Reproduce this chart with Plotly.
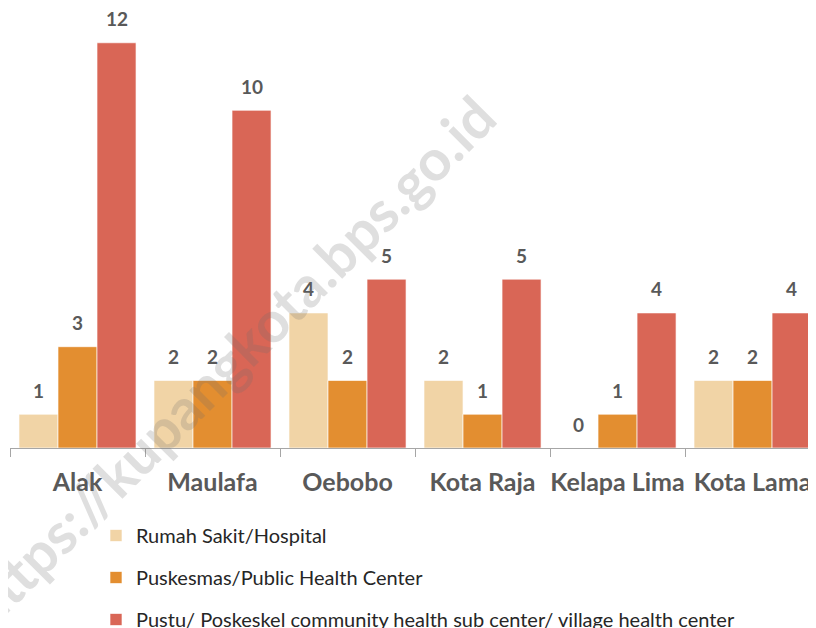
import plotly.graph_objects as go

categories = ["Alak", "Maulafa", "Oebobo", "Kota Raja", "Kelapa Lima", "Kota Lama"]
series_names = [
    "Rumah Sakit/Hospital",
    "Puskesmas/Public Health Center",
    "Pustu/ Poskeskel community health sub center/ village health center",
]
hospital = [1, 2, 4, 2, 0, 2]
puskesmas = [3, 2, 2, 1, 1, 2]
pustu = [12, 10, 5, 5, 4, 4]
series_values = [hospital, puskesmas, pustu]
colors = ["#F1D4A6", "#E38E30", "#D96656"]
watermark = "https://kupangkota.bps.go.id"

# page body has an 8px margin, so the figure is offset by 8px
W, H = 808, 620
ML, MT, MB = 2, 1, 180
PW = W - ML
PH = H - MT - MB
BOTTOM = MT + PH

BARGAP = 0.133
fig = go.Figure()
for i, (name, vals, col) in enumerate(zip(series_names, series_values, colors)):
    fig.add_trace(go.Bar(
        x=categories, y=vals, name=name, legendgroup=f"g{i}",
        marker=dict(color=col, line=dict(color="rgba(255,255,255,0.8)", width=0.8)),
        hoverinfo="skip",
    ))

# data labels above bars
bw = (1 - BARGAP) / 3
annotations = []
for i, vals in enumerate(series_values):
    off = (i - 1) * bw
    for j, v in enumerate(vals):
        annotations.append(dict(
            x=j + off, y=v, xref="x", yref="y", text=str(v), showarrow=False,
            yanchor="middle", yshift=24,
            font=dict(family="Lato", size=19, color="#595959", weight="bold"),
        ))

# watermark
annotations.append(dict(
    x=(221 - ML) / PW, y=(BOTTOM - 353) / PH, xref="paper", yref="paper",
    text=watermark, showarrow=False, textangle=-45,
    xanchor="center", yanchor="middle",
    font=dict(family="Lato", size=57, color="rgba(110,110,110,0.22)", weight="bold"),
))

fig.update_layout(
    width=W, height=H,
    margin=dict(l=ML, r=0, t=MT, b=MB, autoexpand=False),
    paper_bgcolor="white", plot_bgcolor="white",
    barmode="group", bargap=BARGAP, bargroupgap=0,
    showlegend=True,
    legend=dict(
        orientation="v", x=(88 - ML) / PW, xanchor="left",
        y=(BOTTOM - 508) / PH, yanchor="top",
        font=dict(family="Lato", size=20, color="#262626"),
        tracegroupgap=13, bgcolor="rgba(0,0,0,0)", traceorder="grouped",
    ),
    xaxis=dict(
        range=[-0.5, 5.47], showline=True, linecolor="#A6A6A6", linewidth=1,
        ticks="outside", tickson="boundaries", ticklen=8, tickcolor="#A6A6A6",
        tickfont=dict(family="Lato", size=25, color="#595959", weight="bold"),
        tickangle=0, ticklabelstandoff=12, showgrid=False, automargin=False,
    ),
    yaxis=dict(range=[0, 13], visible=False, showgrid=False, zeroline=False),
    annotations=annotations,
)

fig.write_html("out.html")
